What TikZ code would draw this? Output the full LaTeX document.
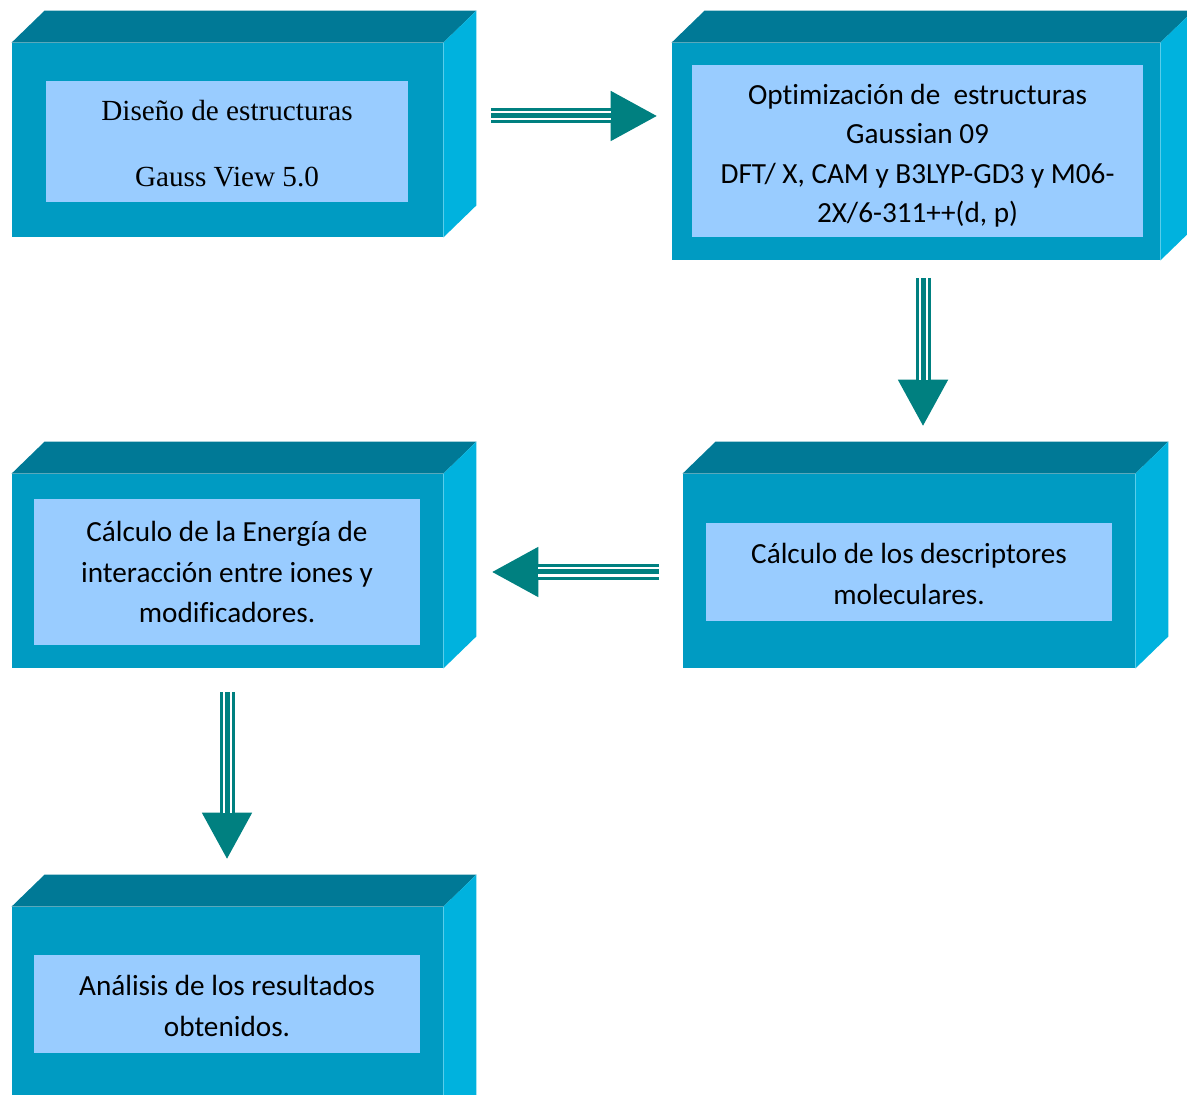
\documentclass[tikz,border=0pt]{standalone}
\usepackage{fontspec}
\setmainfont{Carlito}[Ligatures=CommonOff]
\newfontfamily\serifrm{Liberation Serif}
\usepackage{tikz}
\usetikzlibrary{arrows.meta,positioning,fit,calc}
\definecolor{faceblue}{HTML}{009BC2}
\definecolor{topblue}{HTML}{007996}
\definecolor{sideblue}{HTML}{00B2DE}
\definecolor{paneblue}{HTML}{99CCFF}
\definecolor{flowteal}{HTML}{008080}
% top and right faces of a block whose front face is node #1
\newcommand{\slab}[1]{%
  \fill[topblue] (#1.north west) -- ++(33,-32) -- ([shift={(33,-32)}]#1.north east) -- (#1.north east) -- cycle;
  \fill[sideblue] (#1.north east) -- ++(33,-32) -- ([shift={(33,-32)}]#1.south east) -- (#1.south east) -- cycle;}

\begin{document}
\begin{tikzpicture}[
    x=0.5pt, y=-0.5pt,
    front/.style={fill=faceblue, inner sep=0pt},
    pane/.style={fill=paneblue, align=center, inner sep=0pt, font=\fontsize{14.6}{20.25}\selectfont},
    flow/.style={draw=flowteal, line width=7.5pt, -{Triangle[length=23.5pt, width=23.5pt]},
        postaction={draw=white, line width=4.5pt, -, shorten >=23.5pt},
        postaction={draw=flowteal, line width=2.5pt, -, shorten >=23.5pt}}
]
\useasboundingbox (0,0) rectangle (1187,1095);
\clip (0,0) rectangle (1187,1095);

% --- Blocks ---
\node[front, fit={(12,43) (443,237)}] (f1) {};
\slab{f1}
\node[pane, minimum width=181pt, minimum height=60.5pt, font=\serifrm\fontsize{14.6}{20.5}\selectfont] (p1) at (227,141.5)
  {\rule{0pt}{12.5pt}Diseño de estructuras\\[12.5pt] Gauss View 5.0};

\node[front, fit={(672,43) (1160,260)}] (f2) {};
\slab{f2}
\node[pane, minimum width=225.5pt, minimum height=86pt, font=\fontsize{14.6}{19.7}\selectfont] (p2) at (917.5,151)
  {\rule{0pt}{15pt}Optimización de\ \ estructuras\\Gaussian 09\\DFT/ X, CAM y B3LYP-GD3 y M06-\\2X/6-311++(d, p)};

\node[front, fit={(12,474) (443,668)}] (f3) {};
\slab{f3}
\node[pane, minimum width=193pt, minimum height=73pt] (p3) at (227,572)
  {Cálculo de la Energía de\\interacción entre iones y\\modificadores.};

\node[front, fit={(683,474) (1135,668)}] (f4) {};
\slab{f4}
\node[pane, minimum width=203pt, minimum height=49pt] (p4) at (909,572)
  {\rule{0pt}{12pt}Cálculo de los descriptores\\moleculares.};

\node[front, fit={(12,907) (443,1130)}] (f5) {};
\slab{f5}
\node[pane, minimum width=193pt, minimum height=49pt] (p5) at (227,1004)
  {\rule{0pt}{12pt}Análisis de los resultados\\obtenidos.};

% --- Flow arrows ---
\coordinate (a1) at (491,116);
\draw[flow] (a1) -- ([xshift=-7pt]f2.west |- a1);

\coordinate (a2) at (923,278);
\draw[flow] (a2) -- ([yshift=23.5pt]f4.north -| a2);

\coordinate (a3) at (659,572);
\draw[flow] (a3) -- ([xshift=24pt]f3.east |- a3);

\coordinate (a4) at (227,692);
\draw[flow] (a4) -- ([yshift=23.5pt]f5.north -| a4);

\end{tikzpicture}
\end{document}
